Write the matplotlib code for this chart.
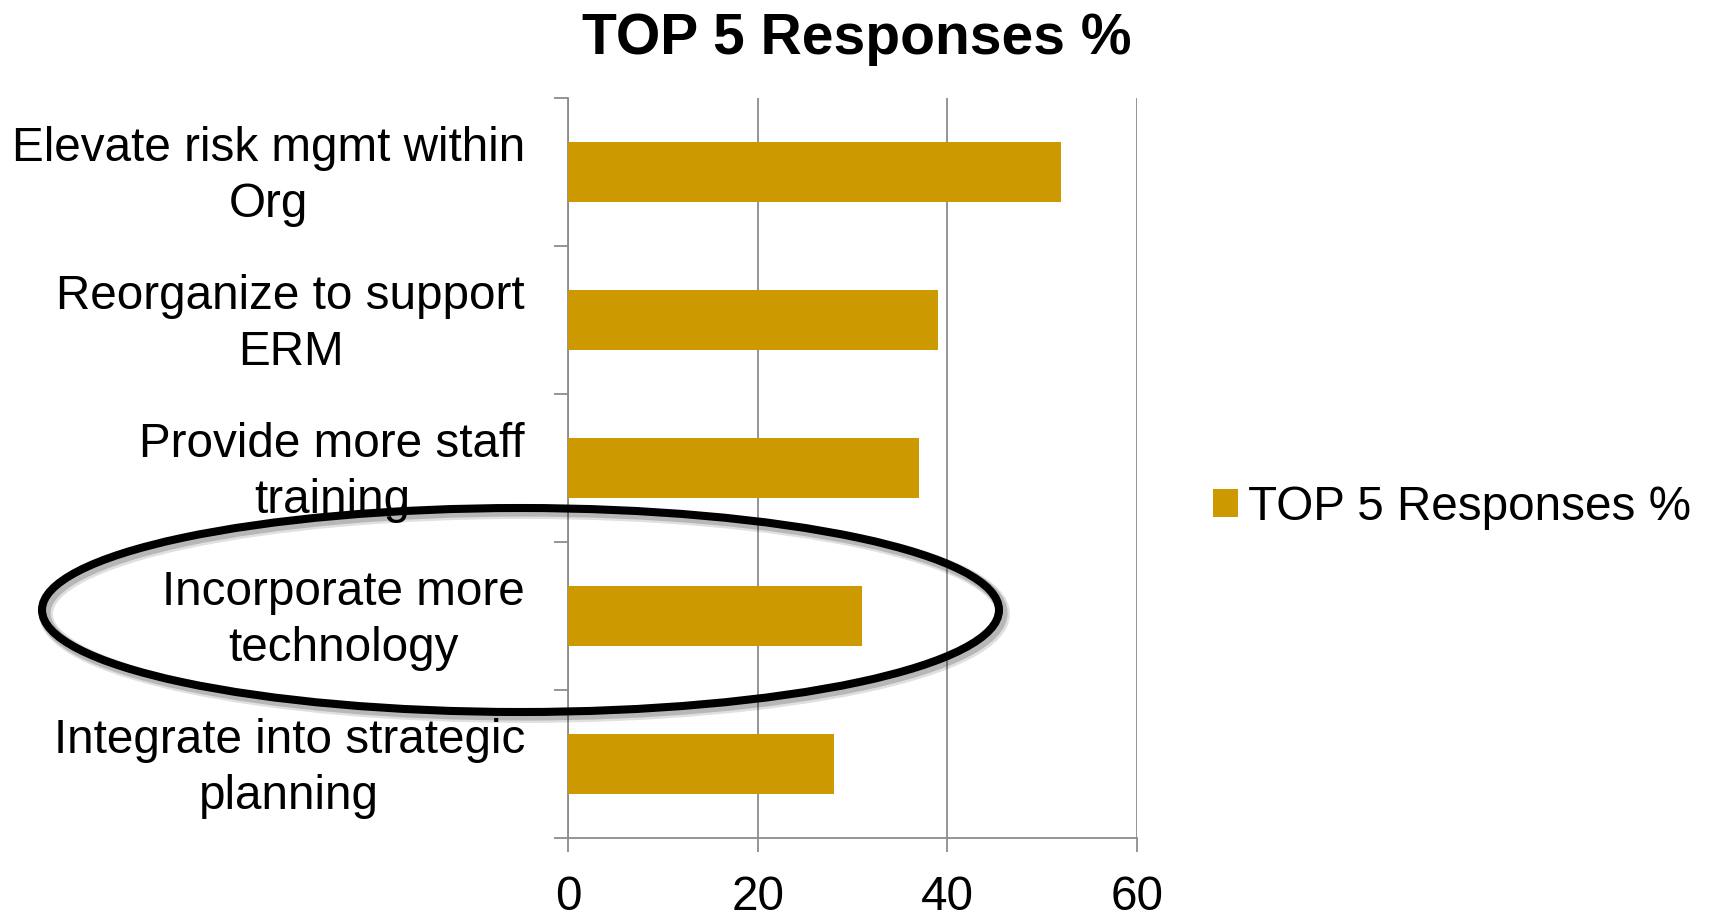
import matplotlib
matplotlib.use("Agg")
import matplotlib.pyplot as plt
from matplotlib.patches import Ellipse, Patch
from matplotlib.ticker import FixedLocator
from matplotlib.transforms import ScaledTranslation

plt.rcParams['font.family'] = ['Liberation Sans', 'DejaVu Sans']

categories = ["Elevate risk mgmt within\nOrg",
              "Reorganize to support\nERM",
              "Provide more staff\ntraining",
              "Incorporate more\ntechnology",
              "Integrate into strategic\nplanning"]
values = [52, 39, 37, 31, 28]
x_ticks = [0, 20, 40, 60]
series_name = "TOP 5 Responses %"
title = "TOP 5 Responses %"

bar_color = "#CC9900"
grid_color = "#8C8C8C"

W, H = 1713, 915
fig = plt.figure(figsize=(W / 100, H / 100), dpi=100)
ax = fig.add_axes([568 / W, 1 - 838 / H, (1137 - 568) / W, (838 - 98) / H])

ypos = list(range(len(categories)))
ax.barh(ypos, values, height=0.4, color=bar_color, zorder=3, label=series_name)
ax.set_ylim(len(categories) - 0.5, -0.5)
ax.set_xlim(0, 60)

# category labels (right-aligned block, centred lines)
ax.set_yticks(ypos)
ax.set_yticklabels([])
label_tr = ax.get_yaxis_transform() + ScaledTranslation(-0.4306, -0.044, fig.dpi_scale_trans)
for y, lab in zip(ypos, categories):
    ax.text(0, y, lab, transform=label_tr, ha='right', va='center', multialignment='center',
            fontsize=34.3, linespacing=1.3, clip_on=False)
ax.yaxis.set_minor_locator(FixedLocator([i - 0.5 for i in range(len(categories) + 1)]))
ax.tick_params(axis='y', which='major', length=0)
ax.tick_params(axis='y', which='minor', length=10, width=1.3, color=grid_color)

ax.set_xticks(x_ticks)
ax.set_xticklabels([str(t) for t in x_ticks], fontsize=34.3)
ax.tick_params(axis='x', which='major', length=10, width=1.3, color=grid_color, pad=17)
ax.xaxis.grid(True, color=grid_color, linewidth=1.3, zorder=0)
ax.set_axisbelow(True)

for s in ['top', 'right']:
    ax.spines[s].set_visible(False)
for s in ['left', 'bottom']:
    ax.spines[s].set_color(grid_color)
    ax.spines[s].set_linewidth(1.3)

fig.text(0.5, 1 - 39.5 / H, title, ha='center', va='center', fontsize=41, fontweight='bold')

handle = Patch(facecolor=bar_color, edgecolor='none')
fig.legend([handle], [series_name], loc='center left', bbox_to_anchor=(1193.5 / W, 1 - 507 / H),
           frameon=False, fontsize=34.3, handlelength=0.53, handleheight=0.53, handletextpad=0.21,
           borderaxespad=0)

# annotation ellipse with soft shadow
cx, cy, ew, eh = 520.5 / W, 1 - 610 / H, 957 / W, 204 / H
for off, a, lw in [(4, 0.12, 10), (3, 0.18, 8)]:
    fig.patches.append(Ellipse((cx + off / W, cy - off / H), ew, eh, transform=fig.transFigure,
                               fill=False, edgecolor='black', alpha=a, linewidth=lw, zorder=9))
fig.patches.append(Ellipse((cx, cy), ew, eh, transform=fig.transFigure,
                           fill=False, edgecolor='black', linewidth=5.8, zorder=10))

fig.savefig("out.png", dpi=100)
